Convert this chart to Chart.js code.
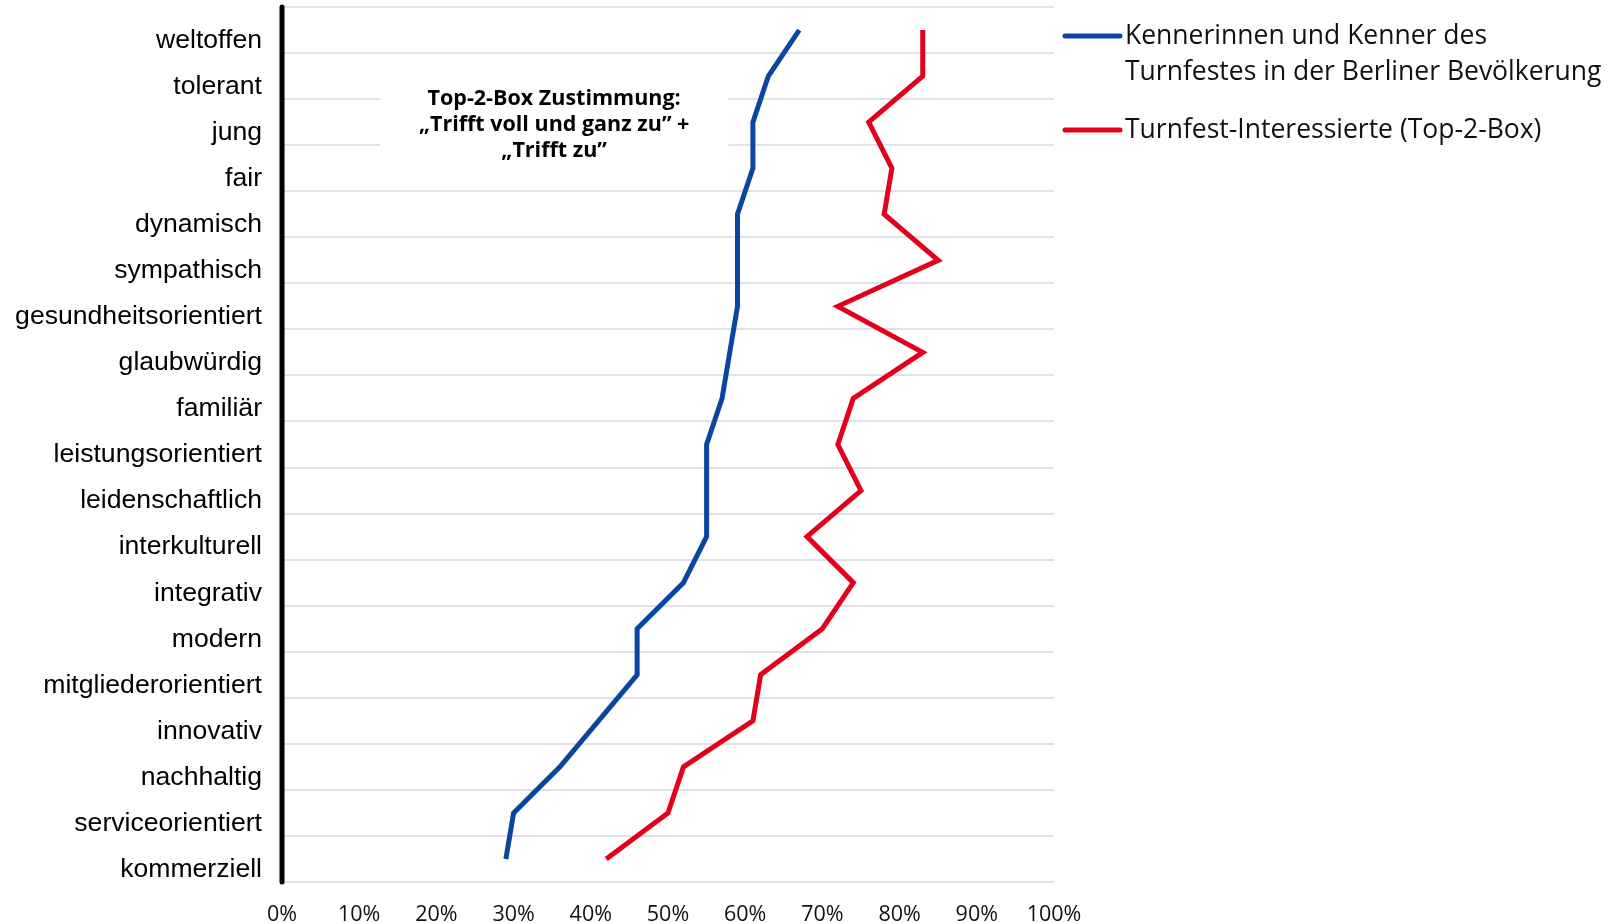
<!DOCTYPE html>
<html lang="de">
<head>
<meta charset="utf-8">
<title>Imageprofil Turnfest</title>
<script src="https://cdn.jsdelivr.net/npm/chart.js@4/dist/chart.umd.min.js"></script>
<style>
  html, body { margin: 0; padding: 0; background: #fff; }
  #wrap { width: 1621px; height: 923px; position: relative; }
</style>
</head>
<body>
<div id="wrap"><canvas id="chart" width="1621" height="923"></canvas></div>
<script>
// Eigenschaften (von oben nach unten)
const attributes = [
  'weltoffen', 'tolerant', 'jung', 'fair', 'dynamisch', 'sympathisch',
  'gesundheitsorientiert', 'glaubwürdig', 'familiär', 'leistungsorientiert',
  'leidenschaftlich', 'interkulturell', 'integrativ', 'modern',
  'mitgliederorientiert', 'innovativ', 'nachhaltig', 'serviceorientiert',
  'kommerziell'
];

// Top-2-Box Zustimmung in %
const kennerValues = [67, 63, 61, 61, 59, 59, 59, 58, 57, 55, 55, 55, 52, 46, 46, 41, 36, 30, 29];
const interessierteValues = [83, 83, 76, 79, 78, 85, 72, 83, 74, 72, 75, 68, 74, 70, 62, 61, 52, 50, 42];

const seriesNames = [
  'Kennerinnen und Kenner des\nTurnfestes in der Berliner Bevölkerung',
  'Turnfest-Interessierte (Top-2-Box)'
];

const noteLines = ['Top-2-Box Zustimmung:', '„Trifft voll und ganz zu” +', '„Trifft zu”'];

const BLUE = '#0a46a0';
const RED = '#e2001a';

/**
 * Hinweisbox im Diagramm (weißer Hintergrund über den Gitterlinien)
 */
const notePlugin = {
  id: 'note',
  beforeDatasetsDraw(chart) {
    const { ctx, scales: { x, y } } = chart;
    const left = x.getPixelForValue(12.7);
    const right = x.getPixelForValue(57.8);
    const top = y.getPixelForValue(0.8);
    const bottom = y.getPixelForValue(3.2);
    ctx.save();
    ctx.fillStyle = '#fff';
    ctx.fillRect(left, top, right - left, bottom - top);
    ctx.fillStyle = '#000';
    ctx.font = 'bold 21.5px "Open Sans"';
    ctx.textAlign = 'center';
    ctx.textBaseline = 'middle';
    const cx = (left + right) / 2;
    const cy = y.getPixelForValue(2.05);
    noteLines.forEach((line, i) => {
      ctx.fillText(line, cx, cy + (i - 1) * 26);
    });
    ctx.restore();
  }
};

/**
 * Legende rechts neben dem Diagramm, mehrzeilig
 */
const sideLegend = {
  id: 'sideLegend',
  afterDraw(chart) {
    const { ctx } = chart;
    const lineX0 = 1065, lineX1 = 1120, textX = 1125;
    let yPos = 36;
    ctx.save();
    ctx.font = '26.5px "Open Sans"';
    ctx.textBaseline = 'middle';
    ctx.textAlign = 'left';
    chart.data.datasets.forEach(ds => {
      ctx.strokeStyle = ds.borderColor;
      ctx.lineWidth = 5;
      ctx.lineCap = 'round';
      ctx.beginPath();
      ctx.moveTo(lineX0, yPos);
      ctx.lineTo(lineX1, yPos);
      ctx.stroke();
      ctx.fillStyle = '#111';
      const lines = ds.label.split('\n');
      lines.forEach((t, i) => ctx.fillText(t, textX, yPos + i * 36));
      yPos += lines.length * 36 + 22;
    });
    ctx.restore();
  }
};

/**
 * Dicke schwarze y-Achse mit runden Enden
 */
const axisLine = {
  id: 'axisLine',
  afterDatasetsDraw(chart) {
    const { ctx, chartArea } = chart;
    ctx.save();
    ctx.strokeStyle = '#000';
    ctx.lineWidth = 5;
    ctx.lineCap = 'round';
    ctx.beginPath();
    ctx.moveTo(chartArea.left, chartArea.top);
    ctx.lineTo(chartArea.left, chartArea.bottom);
    ctx.stroke();
    ctx.restore();
  }
};

new Chart(document.getElementById('chart'), {
  type: 'line',
  data: {
    labels: attributes,
    datasets: [
      {
        label: seriesNames[0],
        data: kennerValues,
        borderColor: BLUE,
        backgroundColor: BLUE,
        borderWidth: 5,
        pointRadius: 0,
        tension: 0,
        borderJoinStyle: 'miter'
      },
      {
        label: seriesNames[1],
        data: interessierteValues,
        borderColor: RED,
        backgroundColor: RED,
        borderWidth: 5,
        pointRadius: 0,
        tension: 0,
        borderJoinStyle: 'miter'
      }
    ]
  },
  options: {
    indexAxis: 'y',
    responsive: false,
    animation: false,
    devicePixelRatio: 1,
    layout: { padding: { top: 7, right: 567, left: 0, bottom: 0 } },
    plugins: {
      legend: { display: false },
      tooltip: { enabled: false }
    },
    scales: {
      x: {
        type: 'linear',
        min: 0,
        max: 100,
        afterFit(scale) { scale.height = 41; },
        grid: { display: false },
        border: { display: false },
        ticks: {
          stepSize: 10,
          padding: 12,
          color: '#111',
          font: { family: '"Open Sans"', size: 21.5 },
          callback: v => v + '%'
        }
      },
      y: {
        type: 'category',
        offset: true,
        afterFit(scale) {
          scale.width = 282;
          // keine zusätzliche Randreserve für die Beschriftungen
          scale.paddingTop = 0;
          scale.paddingBottom = 0;
        },
        grid: {
          offset: true,
          drawTicks: false,
          color: '#e0e2e7',
          lineWidth: 2
        },
        border: { display: false },
        ticks: {
          padding: 20,
          labelOffset: 10.5,
          color: '#000',
          font: { family: '"Liberation Sans", Arial, sans-serif', size: 26.6 }
        }
      }
    }
  },
  plugins: [notePlugin, axisLine, sideLegend]
});
</script>
</body>
</html>
